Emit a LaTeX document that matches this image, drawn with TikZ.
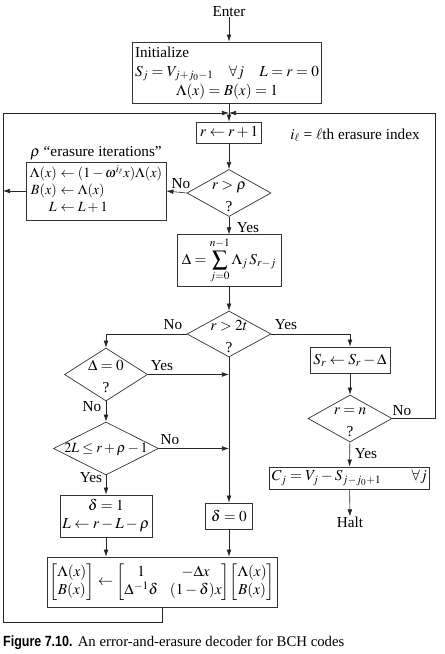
\documentclass[tikz,border=0pt]{standalone}
\usepackage{amsmath}
\usepackage{mathptmx}
\usepackage[no-math]{fontspec}
\setmainfont{Liberation Serif}
\newfontfamily\capsans{Liberation Sans}
\usepackage{graphicx}
\usepackage{tikz}
\usetikzlibrary{shapes.geometric, arrows.meta, positioning}

% text inside a diamond: takes no room, so the diamond keeps its size
\newcommand{\dtext}[2][-5.5pt]{\smash{\makebox[0pt]{\raisebox{#1}{%
  \renewcommand{\arraystretch}{1.25}\begin{tabular}{@{}c@{}}#2\end{tabular}}}}}

\tikzset{
  box/.style={draw=black!80, line width=0.6pt, inner sep=2pt,
              font=\fontsize{13}{15}\selectfont},
  decision/.style={draw=black!80, line width=0.6pt, diamond, inner sep=0pt,
              font=\fontsize{13}{15}\selectfont},
  flow/.style={draw=black!85, line width=0.5pt},
  lbl/.style={inner sep=0pt, font=\fontsize{13}{15}\selectfont},
}

\begin{document}
\begin{tikzpicture}[x=0.03cm, y=-0.03cm, >={Latex[length=6pt,width=4pt]}]

    \useasboundingbox (0,0) rectangle (444,654);

    % =================================================================
    % 1. COORDINATES OF THE OUTER LOOP
    % =================================================================
    \coordinate (cTL) at (3,113);   % top left corner
    \coordinate (cBL) at (3,622);   % bottom left corner
    \coordinate (cTR) at (435,113); % top right corner
    \coordinate (cJoin) at (229,113); % where both loops come back

    % =================================================================
    % 2. MAIN COLUMN
    % =================================================================
    \node[lbl] (enter) at (229,12) {Enter};
    \node[box, minimum width=5.52cm, minimum height=1.83cm] (init) at (227,72.5)
      {\renewcommand{\arraystretch}{1.07}%
       \begin{tabular}{@{}l@{}}
       Initialize\\
       $S_j = V_{j+j_0-1}\quad \forall j\quad L = r = 0$\\
       \multicolumn{1}{@{}c@{}}{$\Lambda(x) = B(x) = 1$}
       \end{tabular}};
    \node[box, minimum width=1.95cm, minimum height=0.63cm] (incr) at (229,132.5)
      {$r \leftarrow r + 1$};
    \node[lbl] (index) at (355,135) {$i_\ell$ = $\ell$th erasure index};

    \node[decision, minimum width=2.52cm, minimum height=1.41cm] (dRho) at (229,193)
      {\dtext{$r > \rho$\\?}};
    \node[box, minimum width=3.12cm, minimum height=1.35cm] (sum) at (229,260.5)
      {$\displaystyle \Delta = \sum_{j=0}^{\raisebox{1.5pt}{$\scriptstyle n-1$}}
        \Lambda_j\, S_{r-j}$};
    \node[decision, minimum width=2.52cm, minimum height=1.38cm] (d2t) at (229,334)
      {\dtext{$r > 2t$\\?}};
    \node[box, minimum width=1.41cm, minimum height=0.78cm] (d0) at (229,516)
      {$\delta = 0$};

    % =================================================================
    % 3. ERASURE BOX (LEFT, TOP)
    % =================================================================
    \node[lbl] (erlbl) at (96,153) {$\rho$ ``erasure iterations''};
    \node[box, minimum width=4.2cm, minimum height=1.74cm,
          font=\fontsize{12}{14}\selectfont] (erase) at (96,191)
      {\renewcommand{\arraystretch}{1.05}%
       \begin{tabular}{@{}r@{\;}l@{}}
       $\Lambda(x)$ & $\leftarrow (1-\omega^{i_\ell}x)\Lambda(x)$\\
       $B(x)$ & $\leftarrow \Lambda(x)$\\
       $L$ & $\leftarrow L + 1$
       \end{tabular}};

    % =================================================================
    % 4. LEFT BRANCH (r <= 2t)
    % =================================================================
    \node[decision, minimum width=2.49cm, minimum height=1.59cm] (dDel) at (106,374.5)
      {\dtext{$\Delta = 0$\\?}};
    \node[decision, minimum width=3.15cm, minimum height=1.59cm,
          font=\fontsize{12}{14}\selectfont] (dL) at (106,448.5)
      {\dtext[-3pt]{$2L \le r + \rho - 1$}};
    \node[box, minimum width=2.61cm, minimum height=1.26cm] (d1) at (106,516)
      {\renewcommand{\arraystretch}{1.0}%
       \begin{tabular}{@{}c@{}}$\delta = 1$\\ $L \leftarrow r - L - \rho$\end{tabular}};
    \node[box, minimum width=6.36cm, minimum height=1.5cm] (mat) at (162,582)
      {$\begin{bmatrix}\Lambda(x)\\ B(x)\end{bmatrix} \leftarrow
        \begin{bmatrix}1 & -\Delta x\\ \Delta^{-1}\delta & (1-\delta)x\end{bmatrix}
        \!\begin{bmatrix}\Lambda(x)\\ B(x)\end{bmatrix}$};

    % =================================================================
    % 5. RIGHT BRANCH (r > 2t)
    % =================================================================
    \node[box, minimum width=2.4cm, minimum height=0.78cm] (sr) at (350,360)
      {$S_r \leftarrow S_r - \Delta$};
    \node[decision, minimum width=2.52cm, minimum height=1.41cm] (dN) at (350,418.5)
      {\dtext{$r = n$\\?}};
    \node[box, minimum width=4.17cm, minimum height=0.66cm] (cj) at (349.5,478)
      {$C_j = V_j - S_{j-j_0+1}\qquad \forall j$};
    \node[lbl] (halt) at (350,522) {Halt};

    % =================================================================
    % 6. CONNECTORS
    % =================================================================
    \draw[flow, ->] (enter) -- (init.north -| enter);
    \draw[flow, ->] (init.south -| incr) -- (incr);
    \draw[flow, ->] (incr) -- (dRho);
    \draw[flow, ->] (dRho.west) -- (erase.east);
    \draw[flow, ->] (erase.west) -- (erase.west -| cTL);
    \draw[flow, ->] (dRho) -- (sum);
    \draw[flow, ->] (sum) -- (d2t);
    \draw[flow, ->] (d2t.west) -| (dDel.north);
    \draw[flow, ->] (d2t.east) -| (sr.north);
    \draw[flow, ->] (d2t.south) -- (d0.north);
    \draw[flow, ->] (dDel.east) -- (dDel.east -| d0);
    \draw[flow, ->] (dDel) -- (dL);
    \draw[flow, ->] (dL.east) -- (dL.east -| d0);
    \draw[flow, ->] (dL) -- (d1);
    \draw[flow, ->] (d1) -- (d1.south |- mat.north);
    \draw[flow, ->] (d0) -- (d0.south |- mat.north);
    \draw[flow, ->] (sr) -- (dN);
    \draw[flow, ->] (dN) -- (cj);
    \draw[flow, ->] (cj) -- (halt);

    % loops back to r <- r + 1
    \draw[flow] (mat.south) |- (cBL) -- (cTL);
    \draw[flow, ->] (cTL) -- (cJoin);
    \draw[flow] (dN.east) -| (cTR);
    \draw[flow, ->] (cTR) -- (cJoin);

    % =================================================================
    % 7. YES / NO LABELS
    % =================================================================
    \node[lbl] (noRho) at (181,184) {No};
    \node[lbl] (yesRho) at (248,228) {Yes};
    \node[lbl] (no2t) at (173,325) {No};
    \node[lbl] (yes2t) at (286,325) {Yes};
    \node[lbl] (yesDel) at (162,366) {Yes};
    \node[lbl] (noDel) at (92,407) {No};
    \node[lbl] (noL) at (170,440) {No};
    \node[lbl] (yesL) at (91,478) {Yes};
    \node[lbl] (noN) at (402,411) {No};
    \node[lbl] (yesN) at (366,454) {Yes};

    % =================================================================
    % 8. CAPTION
    % =================================================================
    \node[anchor=west, inner sep=0pt, font=\fontsize{12.6}{14}\selectfont] (caption) at (3,643)
      {{\capsans\bfseries\scalebox{0.845}[1]{Figure 7.10.}}\hspace{4.5pt}An error-and-erasure decoder for BCH codes};

\end{tikzpicture}
\end{document}
